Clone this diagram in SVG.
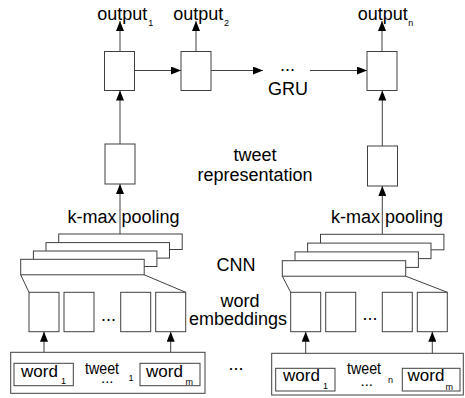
<svg xmlns="http://www.w3.org/2000/svg" width="465" height="398" viewBox="0 0 465 398">
<style>
.b{fill:#fff;stroke:#404040;stroke-width:1}
.c{fill:none;stroke:#404040;stroke-width:1}
.t{font-family:"Liberation Sans",Arial,sans-serif;font-size:18px;fill:#000}
.w{font-family:"Liberation Sans",Arial,sans-serif;font-size:17px;fill:#000}
.s{font-size:9px}
.m{text-anchor:middle}
</style>
<defs>
<marker id="ah" viewBox="0 0 10 8" refX="10" refY="4" markerWidth="10" markerHeight="8" orient="auto" markerUnits="userSpaceOnUse"><path d="M0,0 L10,4 L0,8 z" fill="#000"/></marker>
</defs>
<rect width="465" height="398" fill="#fff"/>
<g id="connectors">
<line class="c" x1="120" y1="51.5" x2="120" y2="21" marker-end="url(#ah)"/>
<line class="c" x1="196" y1="51.5" x2="196" y2="21" marker-end="url(#ah)"/>
<line class="c" x1="382" y1="51.5" x2="382" y2="21" marker-end="url(#ah)"/>
<line class="c" x1="134.5" y1="70.5" x2="181" y2="70.5" marker-end="url(#ah)"/>
<line class="c" x1="211" y1="70.5" x2="263" y2="70.5" marker-end="url(#ah)"/>
<line class="c" x1="310" y1="70.5" x2="367" y2="70.5" marker-end="url(#ah)"/>
<line class="c" x1="120" y1="144" x2="120" y2="90.5" marker-end="url(#ah)"/>
<line class="c" x1="382.3" y1="146" x2="382.3" y2="90.5" marker-end="url(#ah)"/>
<line class="c" x1="120" y1="234" x2="120" y2="184" marker-end="url(#ah)"/>
<line class="c" x1="382.3" y1="234.3" x2="382.3" y2="186" marker-end="url(#ah)"/>
<line class="c" x1="44" y1="363.3" x2="44" y2="331.7" marker-end="url(#ah)"/>
<line class="c" x1="170.7" y1="363.3" x2="170.7" y2="331.7" marker-end="url(#ah)"/>
<line class="c" x1="305.7" y1="368.3" x2="305.7" y2="331.7" marker-end="url(#ah)"/>
<line class="c" x1="432.3" y1="368.3" x2="432.3" y2="331.7" marker-end="url(#ah)"/>
<line class="c" x1="20.7" y1="274.8" x2="29" y2="292.3"/>
<line class="c" x1="144.2" y1="274.8" x2="185.7" y2="292.3"/>
<line class="c" x1="282.3" y1="276.2" x2="290.7" y2="292.3"/>
<line class="c" x1="405.7" y1="276.2" x2="447.3" y2="292.3"/>
</g>
<g id="output-labels">
<text class="t" x="97.3" y="19.5">output<tspan class="s" x="148.3" y="25.5">1</tspan></text>
<text class="t" x="173.3" y="19.5">output<tspan class="s" x="224" y="25.5">2</tspan></text>
<text class="t" x="357.7" y="19.5">output<tspan class="s" x="408.3" y="26">n</tspan></text>
</g>
<g id="gru1"><rect class="b" x="104.5" y="51.5" width="30" height="39"/></g>
<g id="gru2"><rect class="b" x="181" y="51.5" width="30" height="39"/></g>
<g id="grun"><rect class="b" x="367" y="51.5" width="30" height="39"/></g>
<g id="gru-label"><text class="t" x="280" y="70.5">...</text><text class="t m" x="288" y="95">GRU</text></g>
<g id="rep1"><rect class="b" x="105" y="144" width="30" height="40"/></g>
<g id="repn"><rect class="b" x="367.5" y="146" width="30" height="40"/></g>
<g id="rep-label"><text class="t m" x="255" y="161">tweet</text><text class="t m" x="255" y="180.7">representation</text></g>
<g id="pool-labels"><text class="t" x="67.5" y="222.5">k-max pooling</text><text class="t" x="331" y="222.5">k-max pooling</text></g>
<g id="cnn1">
<rect class="b" x="58.7" y="234" width="123.5" height="15.5"/>
<rect class="b" x="46" y="242.6" width="123.5" height="15.5"/>
<rect class="b" x="33.4" y="251" width="123.5" height="15.5"/>
<rect class="b" x="20.7" y="259.3" width="123.5" height="15.5"/>
</g>
<g id="cnnn">
<rect class="b" x="320.5" y="234.3" width="123.4" height="15.5"/>
<rect class="b" x="307.6" y="243.1" width="123.4" height="15.5"/>
<rect class="b" x="295" y="251.9" width="123.4" height="15.5"/>
<rect class="b" x="282.3" y="260.7" width="123.4" height="15.5"/>
</g>
<g id="cnn-label"><text class="t m" x="236" y="271">CNN</text></g>
<g id="emb1">
<rect class="b" x="29" y="292.3" width="30" height="39.4"/>
<rect class="b" x="64" y="292.3" width="30" height="39.4"/>
<text class="t" x="101" y="321">...</text>
<rect class="b" x="120.7" y="292.3" width="30" height="39.4"/>
<rect class="b" x="155.7" y="292.3" width="30" height="39.4"/>
</g>
<g id="embn">
<rect class="b" x="290.7" y="292.3" width="30" height="39.4"/>
<rect class="b" x="325.7" y="292.3" width="30" height="39.4"/>
<text class="t" x="362.5" y="320">...</text>
<rect class="b" x="382.3" y="292.3" width="30" height="39.4"/>
<rect class="b" x="417.3" y="292.3" width="30" height="39.4"/>
</g>
<g id="emb-label"><text class="t m" x="240" y="306.5">word</text><text class="t m" x="238" y="325">embeddings</text></g>
<g id="tweet1">
<rect class="b" x="10.7" y="352.3" width="194.3" height="41"/>
<rect class="b" x="14" y="363.3" width="59.3" height="22.4"/>
<text class="w" x="21" y="376.7">word<tspan class="s" x="61" y="384.3">1</tspan></text>
<text class="w" x="85" y="374" textLength="34" lengthAdjust="spacingAndGlyphs">tweet</text>
<text class="w s" x="128.5" y="380.5">1</text>
<text class="w" x="101" y="383" style="font-size:15px">...</text>
<rect class="b" x="140" y="363.3" width="60" height="22.4"/>
<text class="w" x="146" y="376.7">word<tspan class="s" x="185.5" y="384.5">m</tspan></text>
</g>
<g id="between"><text class="t" x="228.5" y="370">...</text></g>
<g id="tweetn">
<rect class="b" x="271.7" y="353.3" width="191.6" height="41.7"/>
<rect class="b" x="275.7" y="368.3" width="59.3" height="22.7"/>
<text class="w" x="283" y="381">word<tspan class="s" x="323" y="388.5">1</tspan></text>
<text class="w" x="347" y="374.3" textLength="34" lengthAdjust="spacingAndGlyphs">tweet</text>
<text class="w s" x="388" y="382.7">n</text>
<text class="w" x="360.5" y="386" style="font-size:15px">...</text>
<rect class="b" x="402.3" y="368.3" width="57.7" height="22.7"/>
<text class="w" x="407.5" y="381">word<tspan class="s" x="445.5" y="389.5">m</tspan></text>
</g>
</svg>
